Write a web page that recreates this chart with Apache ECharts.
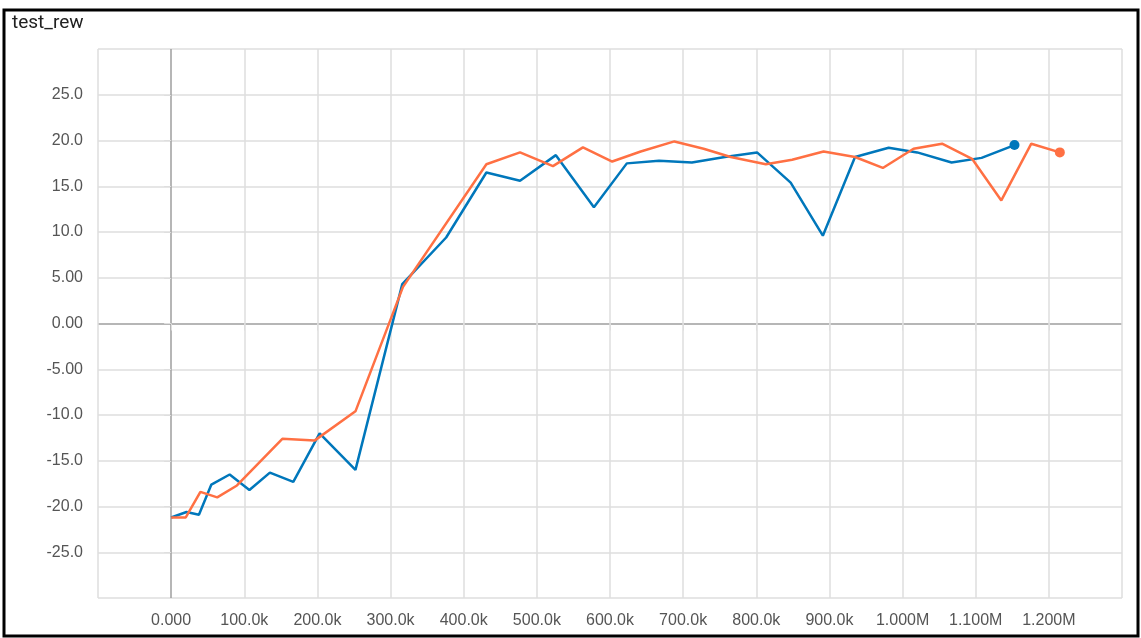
<!DOCTYPE html>
<html>
<head>
<meta charset="utf-8">
<script src="https://cdn.jsdelivr.net/npm/echarts@6/dist/echarts.min.js"></script>
<style>
  html, body { margin: 0; padding: 0; background: #fff; }
  #chart { width: 1141px; height: 638px; }
</style>
</head>
<body>
<div id="chart"></div>
<script>
// 蓝色曲线 (step, reward)
var blueSteps = [0, 21000, 38000, 55000, 80000, 107000, 135000, 167000, 203000, 252000, 316000, 376000, 431000, 477000, 526000, 578000, 623000, 667000, 712000, 757000, 801000, 847000, 891000, 935000, 981000, 1020000, 1067000, 1108000, 1153000];
var blueRew = [-21.2, -20.6, -20.9, -17.6, -16.5, -18.2, -16.3, -17.3, -12.0, -16.0, 4.3, 9.4, 16.5, 15.6, 18.4, 12.7, 17.5, 17.8, 17.6, 18.2, 18.7, 15.4, 9.6, 18.2, 19.2, 18.7, 17.6, 18.1, 19.5];

// 橙色曲线
var orangeSteps = [0, 20000, 40000, 63000, 90000, 152000, 196000, 252000, 317000, 431000, 477000, 522000, 563000, 603000, 642000, 688000, 728000, 765000, 813000, 849000, 892000, 935000, 973000, 1015000, 1054000, 1095000, 1135000, 1176000, 1215000];
var orangeRew = [-21.2, -21.2, -18.4, -19.0, -17.7, -12.6, -12.8, -9.6, 4.0, 17.4, 18.7, 17.2, 19.25, 17.7, 18.8, 19.9, 19.1, 18.2, 17.4, 17.9, 18.8, 18.2, 17.0, 19.1, 19.65, 18.0, 13.45, 19.65, 18.7];

var chartTitle = 'test_rew';

var blue = '#0077bb';
var orange = '#ff7043';
var light = '#dedede';
var dark = '#9e9e9e';

function pairs(xs, ys) {
  var out = [];
  for (var i = 0; i < xs.length; i++) out.push([xs[i], ys[i]]);
  return out;
}
function last(xs, ys) {
  return [[xs[xs.length - 1], ys[ys.length - 1]]];
}

function fmtStep(v) {
  if (v === 0) return '0.000';
  if (Math.abs(v) >= 1e6) return (v / 1e6).toFixed(3) + 'M';
  return (v / 1e3).toFixed(1) + 'k';
}
function fmtRew(v) {
  return Number(v).toPrecision(3);
}

// 网格线颜色：零线加深
var yLineColors = [];
for (var i = 0; i < 13; i++) yLineColors.push(i === 6 ? dark : light);
var xLineColors = [];
for (var j = 0; j < 15; j++) xLineColors.push(j === 1 ? dark : light);

var chart = echarts.init(document.getElementById('chart'));

var option = {
  animation: false,
  backgroundColor: '#fff',
  grid: { left: 98, right: 19, top: 49, bottom: 40 },
  graphic: [
    {
      type: 'rect',
      shape: { x: 4, y: 10, width: 1134, height: 626 },
      style: { fill: 'none', stroke: '#000', lineWidth: 3 },
      z: 100
    },
    {
      type: 'text',
      left: 12,
      top: 14,
      style: { text: chartTitle, fill: '#212121', font: '19px Roboto' }
    }
  ],
  xAxis: {
    type: 'value',
    min: -100000,
    max: 1300000,
    interval: 100000,
    axisLine: { show: false },
    axisTick: { show: true, length: 7, lineStyle: { color: light } },
    axisLabel: {
      showMinLabel: false,
      showMaxLabel: false,
      margin: 15,
      color: '#555',
      fontSize: 16,
      fontFamily: 'Liberation Sans',
      formatter: fmtStep
    },
    splitLine: { show: true, lineStyle: { color: xLineColors, width: 1.5 } }
  },
  yAxis: {
    type: 'value',
    min: -30,
    max: 30,
    interval: 5,
    axisLine: { show: false },
    axisTick: { show: true, length: 7, lineStyle: { color: light } },
    axisLabel: {
      showMinLabel: false,
      showMaxLabel: false,
      margin: 15,
      color: '#555',
      fontSize: 16,
      fontFamily: 'Liberation Sans',
      formatter: fmtRew
    },
    splitLine: { show: true, lineStyle: { color: yLineColors, width: 1.5 } }
  },
  series: [
    {
      name: 'blue',
      type: 'line',
      data: pairs(blueSteps, blueRew),
      showSymbol: false,
      lineStyle: { color: blue, width: 2.5 },
      itemStyle: { color: blue },
      z: 3
    },
    {
      name: 'orange',
      type: 'line',
      data: pairs(orangeSteps, orangeRew),
      showSymbol: false,
      lineStyle: { color: orange, width: 2.5 },
      itemStyle: { color: orange },
      z: 4
    },
    {
      type: 'scatter',
      data: last(blueSteps, blueRew),
      symbolSize: 10,
      itemStyle: { color: blue, opacity: 1 },
      z: 5
    },
    {
      type: 'scatter',
      data: last(orangeSteps, orangeRew),
      symbolSize: 10,
      itemStyle: { color: orange, opacity: 1 },
      z: 5
    }
  ]
};

chart.setOption(option);
</script>
</body>
</html>
